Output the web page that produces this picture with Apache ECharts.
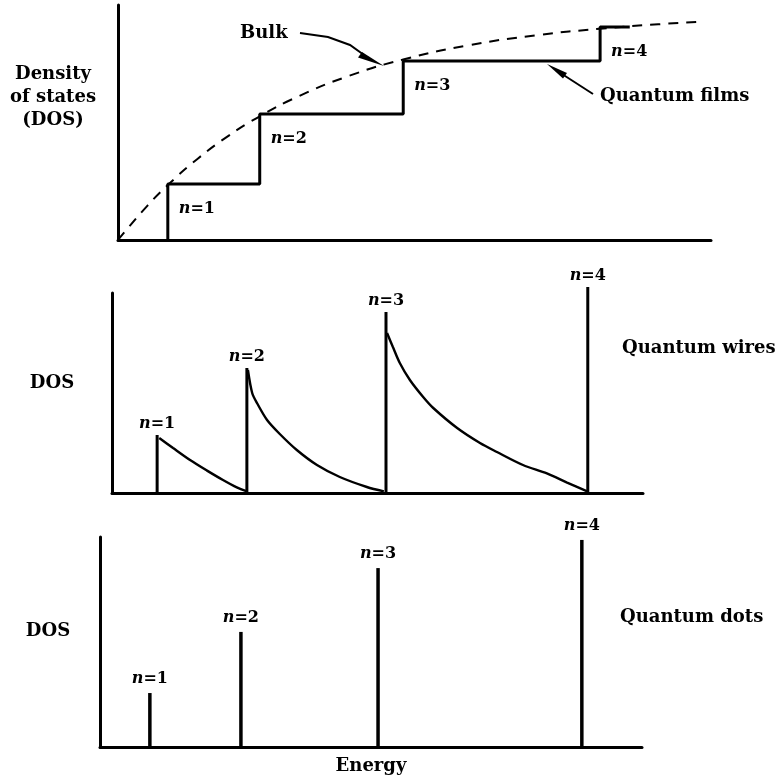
<!DOCTYPE html>
<html><head><meta charset="utf-8">
<script src="https://cdn.jsdelivr.net/npm/echarts/dist/echarts.min.js"></script>
<style>html,body{margin:0;padding:0;background:#fff}#c{width:778px;height:776px}</style>
</head><body><div id="c"></div>
<script>
// ---------- data (relative energy 0-100, relative DOS 0-100) ----------
// Top panel: bulk vs quantum films
const filmEdges = [8.4, 23.9, 48.1, 81.3];
const filmLevels = [23.8, 53.6, 76.2, 90.6];
const filmEnd = 86.3;
const bulkE   = [0, 1.2, 4.9, 8.4, 13.5, 18.5, 23.4, 30.4, 38.8, 48.1, 59.0, 70.8, 81.3, 91.1, 98.1];
const bulkDOS = [0, 3.7, 14.4, 23.4, 34.7, 44.1, 51.9, 61.1, 69.7, 76.8, 82.8, 87.2, 89.9, 91.8, 92.8];
const levelLabels = ['n=1', 'n=2', 'n=3', 'n=4'];

// Middle panel: quantum wires
const wireEdges = [8.5, 25.4, 51.6, 89.6];
const wirePeaks = [29, 62.5, 90.5, 103];
const wireTailE = [
  [8.9, 11.5, 14.7, 17.9, 20.9, 23.5, 25.4],
  [25.6, 26.4, 27.3, 29.2, 31.6, 34.8, 38.6, 42.9, 48.0, 51.2],
  [51.8, 52.9, 54.2, 56.1, 58.6, 60.5, 65.0, 69.3, 72.5, 77.4, 81.9, 85.7, 89.5],
  []
];
const wireTailDOS = [
  [27.5, 22.5, 16.5, 11.2, 6.5, 2.8, 0.8],
  [61.5, 50, 45, 36.5, 29.5, 21.5, 14, 8, 3, 0.8],
  [80, 73, 65, 56.5, 48, 42.5, 32.5, 25, 20.5, 14, 9.8, 5.2, 0.8],
  []
];

// Bottom panel: quantum dots
const dotE   = [9.2, 26.0, 51.3, 88.9];
const dotDOS = [25.7, 54.8, 85.2, 98.6];

// ---------- chart ----------
const FONT = '"DejaVu Serif", "Liberation Serif", serif';
const chart = echarts.init(document.getElementById('c'), null, {renderer: 'canvas'});

function axis(idx) {
  return {
    type: 'value', min: 0, max: 100, gridIndex: idx,
    axisLine: {show: true, onZero: false, lineStyle: {color: '#000', width: 3}},
    axisTick: {show: false}, axisLabel: {show: false}, splitLine: {show: false}
  };
}
const rich = {
  i: {fontFamily: FONT, fontWeight: 'bold', fontStyle: 'italic', fontSize: 16, color: '#000', opacity: 1},
  r: {fontFamily: FONT, fontWeight: 'bold', fontSize: 16, color: '#000', opacity: 1}
};
function labelFmt(p) {
  const parts = levelLabels[p.dataIndex].split('=');
  return '{i|' + parts[0] + '}{r|=' + parts[1] + '}';
}
function lbl(pos, dist) {
  return {show: true, position: pos, distance: dist, color: '#000', opacity: 1,
    textBorderWidth: 0, formatter: labelFmt, rich: rich};
}
function labelSeries(ax, pos, dist, xs, ys) {
  return {
    type: 'scatter', xAxisIndex: ax, yAxisIndex: ax, symbolSize: 0, silent: true, clip: false,
    itemStyle: {opacity: 1}, emphasis: {disabled: true},
    label: lbl(pos, dist),
    data: xs.map((e, i) => [e, ys[i]])
  };
}

const series = [];
// top: bulk dashed
series.push({
  type: 'line', xAxisIndex: 0, yAxisIndex: 0, smooth: true, symbol: 'none', silent: true,
  lineStyle: {color: '#000', width: 2, type: [10, 8]},
  data: bulkE.map((e, i) => [e, bulkDOS[i]])
});
// top: staircase
const stepPts = [[filmEdges[0], 0]];
filmEdges.forEach((e, i) => {
  stepPts.push([e, filmLevels[i]]);
  stepPts.push([i < filmEdges.length - 1 ? filmEdges[i + 1] : filmEnd, filmLevels[i]]);
});
series.push({
  type: 'line', xAxisIndex: 0, yAxisIndex: 0, symbol: 'none', silent: true,
  lineStyle: {color: '#000', width: 3},
  data: stepPts
});
series.push(labelSeries(0, [11, 17], 0, filmEdges, filmLevels));

// middle: verticals + tails
wireEdges.forEach((e, i) => {
  series.push({
    type: 'line', xAxisIndex: 1, yAxisIndex: 1, symbol: 'none', silent: true, clip: false,
    lineStyle: {color: '#000', width: 3},
    data: [[e, 0], [e, wirePeaks[i]]]
  });
  if (wireTailE[i].length) {
    series.push({
      type: 'line', xAxisIndex: 1, yAxisIndex: 1, symbol: 'none', silent: true, clip: false,
      smooth: 0.3,
      lineStyle: {color: '#000', width: 2.4},
      data: wireTailE[i].map((x, k) => [x, wireTailDOS[i][k]])
    });
  }
});
series.push(labelSeries(1, 'top', 3, wireEdges, wirePeaks));

// bottom: delta peaks
dotE.forEach((e, i) => {
  series.push({
    type: 'line', xAxisIndex: 2, yAxisIndex: 2, symbol: 'none', silent: true, clip: false,
    lineStyle: {color: '#000', width: 3.5},
    data: [[e, 0], [e, dotDOS[i]]]
  });
});
series.push(labelSeries(2, 'top', 6, dotE, dotDOS));

function txt(text, x, y, align) {
  return {
    type: 'text', silent: true,
    style: {text: text, x: x, y: y, textAlign: align || 'left', textVerticalAlign: 'middle',
      font: 'bold 18px ' + FONT, fill: '#000', lineHeight: 23}
  };
}

chart.setOption({
  animation: false,
  backgroundColor: '#fff',
  grid: [
    {left: 118, top: 5, width: 593, height: 235},
    {left: 112, top: 293, width: 531, height: 200},
    {left: 100, top: 537, width: 542, height: 210}
  ],
  xAxis: [axis(0), axis(1), axis(2)],
  yAxis: [axis(0), axis(1), axis(2)],
  series: series,
  graphic: [
    txt('Density\nof states\n(DOS)', 53, 97, 'center'),
    txt('Bulk', 240, 33),
    {type: 'polyline', silent: true, shape: {points: [[300, 33], [328, 37], [350, 45], [364, 55]]},
      style: {stroke: '#000', lineWidth: 2, fill: null}},
    {type: 'polygon', silent: true, shape: {points: [[358, 57.5], [362, 52], [384, 66]]},
      style: {fill: '#000'}},
    txt('Quantum films', 600, 96),
    {type: 'line', silent: true, shape: {x1: 593, y1: 94, x2: 562, y2: 74},
      style: {stroke: '#000', lineWidth: 2}},
    {type: 'polygon', silent: true, shape: {points: [[563, 78.5], [567, 73], [547, 64]]},
      style: {fill: '#000'}},
    txt('DOS', 52, 383, 'center'),
    txt('Quantum wires', 622, 348),
    txt('DOS', 48, 631, 'center'),
    txt('Quantum dots', 620, 617),
    txt('Energy', 371, 766, 'center')
  ]
});
</script>
</body></html>
